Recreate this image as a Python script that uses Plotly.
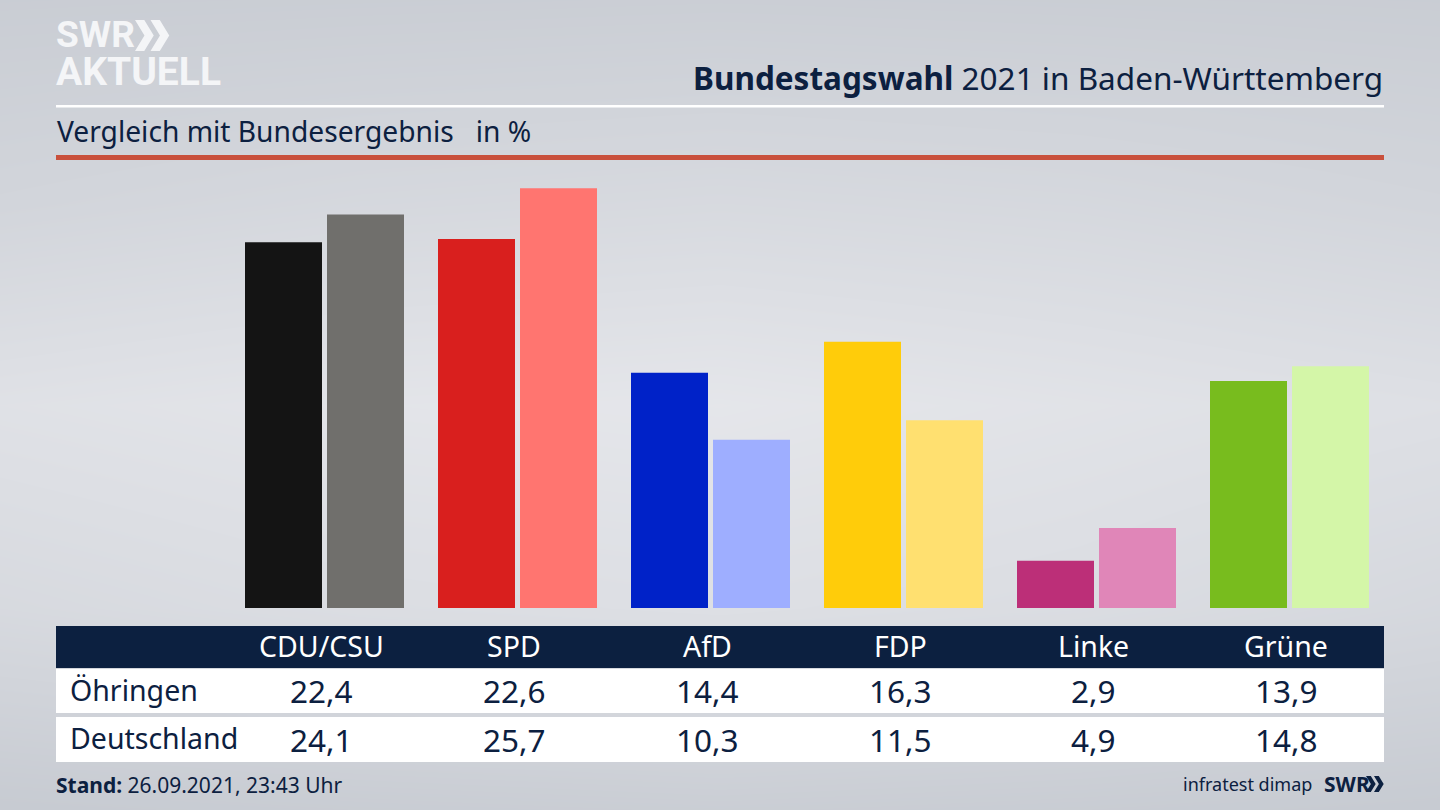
#!/usr/bin/env python3
"""Bundestagswahl 2021 in Baden-Wuerttemberg: Oehringen vs. Bundesergebnis."""

import plotly.graph_objects as go

W, H = 1440, 810

parties = ['CDU/CSU', 'SPD', 'AfD', 'FDP', 'Linke', 'Grüne']
oehringen = [22.4, 22.6, 14.4, 16.3, 2.9, 13.9]
deutschland = [24.1, 25.7, 10.3, 11.5, 4.9, 14.8]
row_labels = ['Öhringen', 'Deutschland']

colors_local = ['#141414', '#d91f1e', '#0022c8', '#ffcc0a', '#bc2f78', '#78bc1e']
colors_nation = ['#706f6c', '#ff7570', '#9eaeff', '#ffe070', '#e086b8', '#d4f6a8']

# background brightness, rough (top to bottom)
bg_pos = [0, 0.25, 0.5, 0.75, 1]
bg_levels = [
    [0.10, 0.12, 0.14, 0.12, 0.10],
    [0.35, 0.45, 0.50, 0.45, 0.35],
    [0.75, 0.85, 0.90, 0.80, 0.70],
    [0.50, 0.62, 0.68, 0.60, 0.45],
    [0.02, 0.08, 0.12, 0.08, 0.02],
]

NAVY = '#0c2040'
LOGO = '#f4f5f7'
FONT = 'Noto Sans'


def px_x(x):
    return x / W


def px_y(y):
    return 1 - y / H


def rect(x0, y0, x1, y1, color):
    return dict(type='rect', xref='paper', yref='paper',
                x0=px_x(x0), x1=px_x(x1), y0=px_y(y0), y1=px_y(y1),
                fillcolor=color, line=dict(width=0), layer='above')


def label(x, y, text, size, color=NAVY, anchor='left', family=FONT):
    return dict(x=px_x(x), y=px_y(y), xref='paper', yref='paper', text=text,
                showarrow=False, xanchor=anchor, yanchor='middle', align=anchor,
                font=dict(family=family, size=size, color=color))


def chevrons(x, y, h, color):
    # two ">" marks next to the SWR lettering
    w = h * 0.5
    t = h * 0.3
    parts = []
    for off in (0, h * 0.5):
        a = x + off
        parts.append(f'M{px_x(a)},{px_y(y)} L{px_x(a + t)},{px_y(y)} '
                     f'L{px_x(a + w + t * 0.35)},{px_y(y + h / 2)} '
                     f'L{px_x(a + t)},{px_y(y + h)} L{px_x(a)},{px_y(y + h)} '
                     f'L{px_x(a + w - t * 0.65)},{px_y(y + h / 2)} Z')
    return dict(type='path', xref='paper', yref='paper', path=' '.join(parts),
                fillcolor=color, line=dict(width=0), layer='above')


fig = go.Figure()

# gradient backdrop on its own full-page axes
fig.add_trace(go.Heatmap(
    x=bg_pos, y=[1 - p for p in bg_pos], z=bg_levels, zmin=0, zmax=1,
    colorscale=[[0, '#c6cad1'], [1, '#e8e9ed']],
    zsmooth='best', showscale=False, hoverinfo='skip',
    xaxis='x', yaxis='y',
))

fig.add_trace(go.Bar(x=parties, y=oehringen, name=row_labels[0],
                     marker=dict(color=colors_local, line=dict(width=0)),
                     xaxis='x2', yaxis='y2'))
fig.add_trace(go.Bar(x=parties, y=deutschland, name=row_labels[1],
                     marker=dict(color=colors_nation, line=dict(width=0)),
                     xaxis='x2', yaxis='y2'))

shapes = [
    rect(56, 105, 1384, 107.5, '#ffffff'),
    rect(56, 155, 1384, 160, '#c9503c'),
    rect(56, 626, 1384, 668, NAVY),
    rect(56, 669, 1384, 713, '#ffffff'),
    rect(56, 717, 1384, 762, '#ffffff'),
    chevrons(135, 20, 31, LOGO),
    chevrons(1366, 776, 16, NAVY),
]

# logo as one two-line text so the lines keep their tight spacing
logo_span = '<span style="font-size:{}px"><b>{}</b></span>'
logo_text = logo_span.format(37, 'SWR') + '<br>' + logo_span.format(39, 'AKTUELL')

annotations = [
    label(54, 54, logo_text, 29, LOGO, family='Roboto'),
    label(1385, 77, '<b>Bundestagswahl</b> 2021 in Baden-Württemberg', 31.5, anchor='right'),
    label(55, 131, 'Vergleich mit Bundesergebnis &nbsp; in %', 28.2),
    label(68, 690, row_labels[0], 28.5),
    label(68, 738, row_labels[1], 28.5),
    label(54, 784.5, '<b>Stand:</b> 26.09.2021, 23:43 Uhr', 21),
    label(1314, 784, 'infratest dimap', 18, anchor='right'),
    label(1322, 784, '<b>SWR</b>', 21),
]

for i, party in enumerate(parties):
    cx = 321 + 193 * i
    annotations.append(label(cx, 646, party, 28.5, '#ffffff', 'center'))
    annotations.append(label(cx, 690, f'{oehringen[i]:.1f}'.replace('.', ','), 31.5, anchor='center'))
    annotations.append(label(cx, 739, f'{deutschland[i]:.1f}'.replace('.', ','), 31.5, anchor='center'))

hidden = dict(visible=False, fixedrange=True)

fig.update_layout(
    width=W, height=H,
    margin=dict(l=0, r=0, t=0, b=0),
    paper_bgcolor='#d6d9de',
    plot_bgcolor='rgba(0,0,0,0)',
    showlegend=False,
    barmode='group',
    bargap=29 / 193,
    bargroupgap=5 / 82,
    xaxis=dict(domain=[0, 1], range=[0, 1], **hidden),
    yaxis=dict(domain=[0, 1], range=[0, 1], **hidden),
    xaxis2=dict(domain=[px_x(228), px_x(1386)], anchor='y2', range=[-0.5, 5.5],
                type='category', **hidden),
    yaxis2=dict(domain=[px_y(608), px_y(182)], anchor='x2', range=[0, 426 / 16.33], **hidden),
    shapes=shapes,
    annotations=annotations,
)

fig.write_html("out.html", config=dict(displayModeBar=False),
               post_script="document.body.style.margin='0';")
